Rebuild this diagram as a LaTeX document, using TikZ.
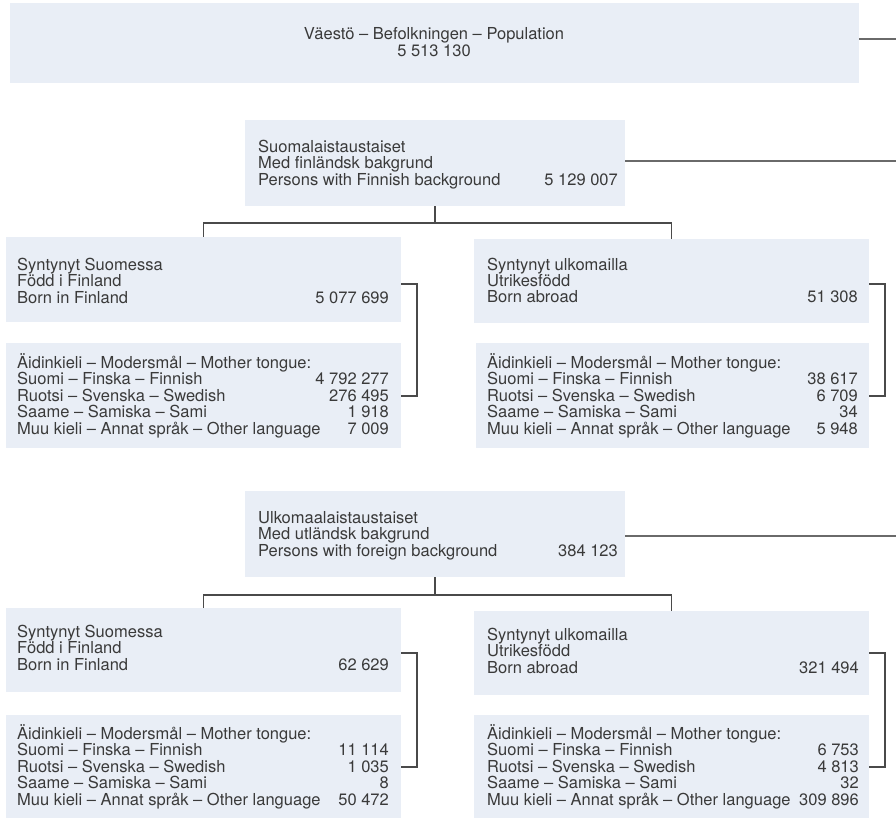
\documentclass[tikz,border=0pt]{standalone}
\usepackage{fontspec}
\setmainfont{TeX Gyre Heros}
\usetikzlibrary{fit}
\definecolor{boxfill}{HTML}{E9EEF6}
\definecolor{txt}{HTML}{3A3A3A}
\definecolor{ln}{HTML}{4A4A4A}
\definecolor{lnr}{HTML}{6A6A6A}
\tikzset{
  bx/.style={fill=boxfill,draw=none,inner sep=0pt},
  lab/.style={text=txt,inner sep=0pt,anchor=base west,font=\fontsize{16.5}{19}\selectfont},
  num/.style={lab,anchor=base east},
  conn/.style={draw=ln,line width=1.1pt},
  connr/.style={draw=lnr,line width=1.1pt}
}
% name, xl, xr, first baseline, n1..n4
\newcommand\mtblock[8]{%
  \node[lab] (#1-0) at (#2,#4) {Äidinkieli – Modersmål – Mother tongue:};
  \node[lab] (#1-1) at (#2,#4+16.4) {Suomi – Finska – Finnish};
  \node[num] (#1-1n) at (#3,#4+16.4) {#5};
  \node[lab] (#1-2) at (#2,#4+32.8) {Ruotsi – Svenska – Swedish};
  \node[num] (#1-2n) at (#3,#4+32.8) {#6};
  \node[lab] (#1-3) at (#2,#4+49.2) {Saame – Samiska – Sami};
  \node[num] (#1-3n) at (#3,#4+49.2) {#7};
  \node[lab] (#1-4) at (#2,#4+65.6) {Muu kieli – Annat språk – Other language};
  \node[num] (#1-4n) at (#3,#4+65.6) {#8};
}
% name, xl, xr, first baseline, l1, l2, l3, number
\newcommand\threeblock[8]{%
  \node[lab] (#1-0) at (#2,#4) {#5};
  \node[lab] (#1-1) at (#2,#4+16.4) {#6};
  \node[lab] (#1-2) at (#2,#4+32.8) {#7};
  \node[num] (#1-2n) at (#3,#4+32.8) {#8};
}
\begin{document}
\begin{tikzpicture}[x=1pt,y=-1pt]
\useasboundingbox (0,0) rectangle (896,819);

% boxes
\node[bx, fit={(10,3) (859,83)}] (b1) {};
\node[bx, fit={(245,120) (625,206)}] (b2) {};
\node[bx, fit={(6,237) (401,322)}] (b3L) {};
\node[bx, fit={(6,343) (401,448)}] (b4L) {};
\node[bx, fit={(474,239) (869,323)}] (b3R) {};
\node[bx, fit={(476,343) (869,448)}] (b4R) {};
\node[bx, fit={(245,491) (625,577)}] (b5) {};
\node[bx, fit={(6,608) (401,692)}] (b6L) {};
\node[bx, fit={(6,715) (401,818)}] (b7L) {};
\node[bx, fit={(474,611) (869,695)}] (b6R) {};
\node[bx, fit={(474,715) (869,818)}] (b7R) {};

% texts
\node[lab,anchor=base] (t1a) at (434,39.5) {Väestö – Befolkningen – Population};
\node[lab,anchor=base] (t1b) at (434,56.5) {5 513 130};

\threeblock{t2}{258}{618}{152.5}{Suomalaistaustaiset}{Med finländsk bakgrund}{Persons with Finnish background}{5 129 007}
\threeblock{t3L}{17}{389}{270.5}{Syntynyt Suomessa}{Född i Finland}{Born in Finland}{5 077 699}
\mtblock{t4L}{17}{389}{368.5}{4 792 277}{276 495}{1 918}{7 009}
\threeblock{t3R}{487}{858}{270}{Syntynyt ulkomailla}{Utrikesfödd}{Born abroad}{51 308}
\mtblock{t4R}{487}{858}{368.5}{38 617}{6 709}{34}{5 948}

\threeblock{t5}{258}{618}{523.5}{Ulkomaalaistaustaiset}{Med utländsk bakgrund}{Persons with foreign background}{384 123}
\threeblock{t6L}{17}{389}{637.5}{Syntynyt Suomessa}{Född i Finland}{Born in Finland}{62 629}
\mtblock{t7L}{17}{389}{739.5}{11 114}{1 035}{8}{50 472}
\threeblock{t6R}{487}{859}{640.5}{Syntynyt ulkomailla}{Utrikesfödd}{Born abroad}{321 494}
\mtblock{t7R}{487}{859}{739.5}{6 753}{4 813}{32}{309 896}

% right-side lines
\coordinate (e1) at (896,39);
\coordinate (e2) at (896,161);
\coordinate (e3) at (896,536);
\draw[connr] (b1.east |- e1) -- (e1);
\draw[connr] (b2.east |- e2) -- (e2);
\draw[connr] (b5.east |- e3) -- (e3);

% tree connectors
\coordinate (j1) at (435,223);
\draw[conn] (b2.south) -- (b2.south |- j1);
\draw[conn] (b3L.north) |- (j1) -| (b3R.north);
\coordinate (j2) at (435,595);
\draw[conn] (b5.south) -- (b5.south |- j2);
\draw[conn] (b6L.north) |- (j2) -| (b6R.north);

% brackets
\coordinate (k1) at (417,284);
\coordinate (k2) at (417,396);
\draw[conn] (b3L.east |- k1) -- (k1) -- (k2) -- (b4L.east |- k2);
\coordinate (k3) at (885,284);
\coordinate (k4) at (885,396);
\draw[conn] (b3R.east |- k3) -- (k3) -- (k4) -- (b4R.east |- k4);
\coordinate (k5) at (417,653);
\coordinate (k6) at (417,767);
\draw[conn] (b6L.east |- k5) -- (k5) -- (k6) -- (b7L.east |- k6);
\coordinate (k7) at (885,653);
\coordinate (k8) at (885,767);
\draw[conn] (b6R.east |- k7) -- (k7) -- (k8) -- (b7R.east |- k8);
\end{tikzpicture}
\end{document}
